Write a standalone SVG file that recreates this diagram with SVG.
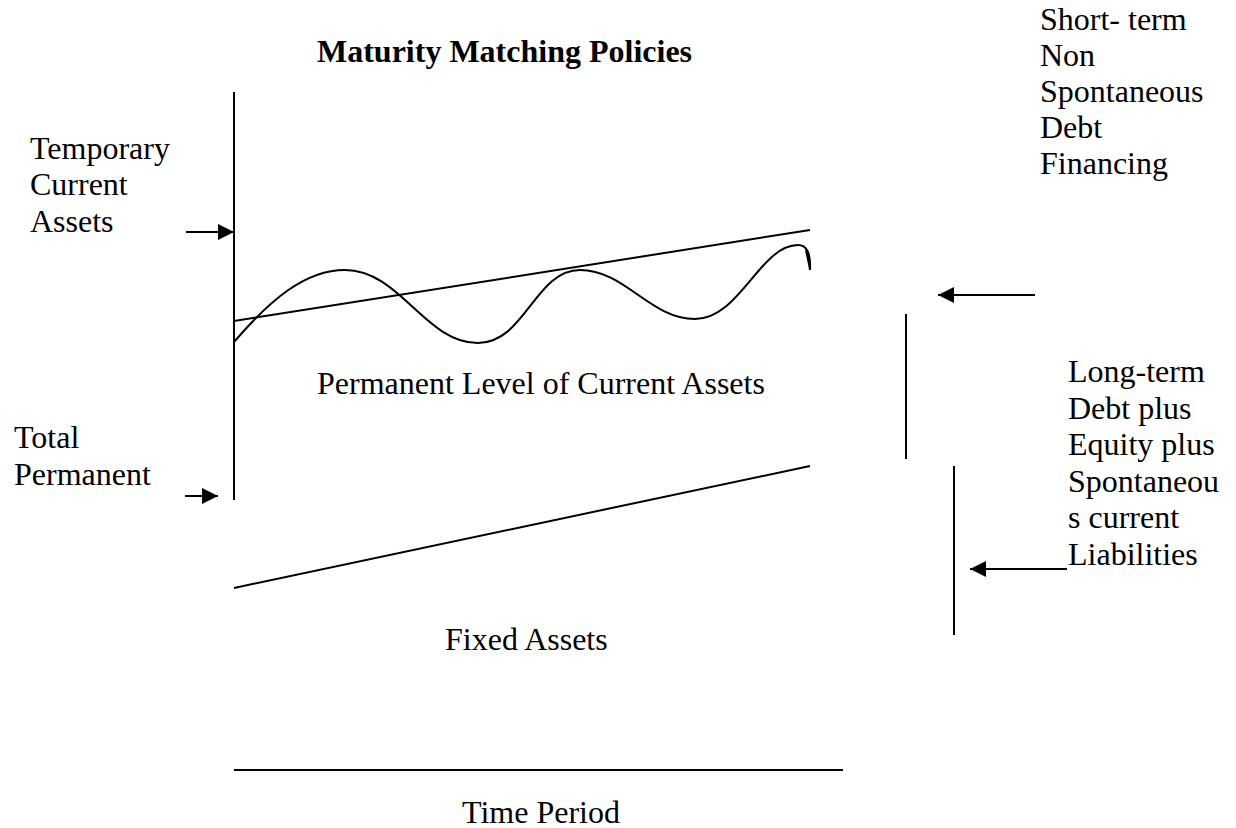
<svg xmlns="http://www.w3.org/2000/svg" width="1236" height="828" viewBox="0 0 1236 828">
  <style>
    text { font-family: "Liberation Serif", "Times New Roman", serif; font-size: 32px; fill: #000; }
    .title { font-weight: bold; }
    .ln { stroke: #000; stroke-width: 2; fill: none; }
    .arr { stroke: #000; stroke-width: 2; fill: none; marker-end: url(#head); }
  </style>
  <defs>
    <marker id="head" markerUnits="userSpaceOnUse" markerWidth="16" markerHeight="16" refX="16" refY="8" orient="auto">
      <path d="M0,0 L16,8 L0,16 z" fill="#000"/>
    </marker>
  </defs>
  <rect width="1236" height="828" fill="#fff"/>

  <g id="title">
    <text class="title" x="317" y="62">Maturity Matching Policies</text>
  </g>

  <!-- axes and plotted levels -->
  <g id="chart">
    <line class="ln" x1="234" y1="92" x2="234" y2="500"/>
    <line class="ln" x1="234" y1="321" x2="810" y2="230"/>
    <path class="ln" d="M234,342 C270,300 305,270 345,270 C400,270 425,343 478,343 C525,343 535,270 580,270 C625,270 650,319 695,319 C740,319 760,245 798,245 C806,245 811,252 810,270 C809,262 807,256 806,250"/>
    <line class="ln" x1="234" y1="588" x2="810" y2="466"/>
    <line class="ln" x1="234" y1="770" x2="843" y2="770"/>
  </g>

  <g id="temporary-label">
    <text x="30" y="159">Temporary</text>
    <text x="30" y="195">Current</text>
    <text x="30" y="232">Assets</text>
  </g>

  <g id="total-permanent-label">
    <text x="14" y="448">Total</text>
    <text x="14" y="485">Permanent</text>
  </g>

  <g id="permanent-level-label">
    <text x="317" y="394">Permanent Level of Current Assets</text>
  </g>

  <g id="fixed-assets-label">
    <text x="445" y="650">Fixed Assets</text>
  </g>

  <g id="time-period-label">
    <text x="462" y="823">Time Period</text>
  </g>

  <g id="short-term-label">
    <text x="1040" y="30">Short- term</text>
    <text x="1040" y="66">Non</text>
    <text x="1040" y="102">Spontaneous</text>
    <text x="1040" y="138">Debt</text>
    <text x="1040" y="174">Financing</text>
  </g>

  <g id="long-term-label">
    <text x="1068" y="382">Long-term</text>
    <text x="1068" y="419">Debt plus</text>
    <text x="1068" y="455">Equity plus</text>
    <text x="1068" y="492">Spontaneou</text>
    <text x="1068" y="528">s current</text>
    <text x="1068" y="565">Liabilities</text>
  </g>

  <!-- pointers and brackets -->
  <g id="connectors">
    <line class="arr" x1="186" y1="232" x2="234" y2="232"/>
    <line class="arr" x1="185" y1="496" x2="218" y2="496"/>
    <line class="arr" x1="1035" y1="295" x2="938" y2="295"/>
    <line class="arr" x1="1067" y1="569" x2="970" y2="569"/>
    <line class="ln" x1="906" y1="314" x2="906" y2="459"/>
    <line class="ln" x1="954" y1="466" x2="954" y2="635"/>
  </g>
</svg>
